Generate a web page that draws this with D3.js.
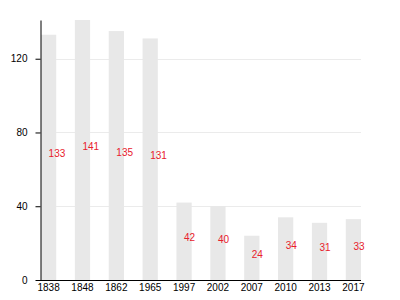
<!DOCTYPE html>
<html>
<head>
<meta charset="utf-8">
<script src="https://cdn.jsdelivr.net/npm/d3@7"></script>
<style>
  body { margin: 0; background: #fff; }
  svg { display: block; font-family: "Liberation Sans", Arial, sans-serif; }
</style>
</head>
<body>
<div id="chart"></div>
<script>
const years = ["1838", "1848", "1862", "1965", "1997", "2002", "2007", "2010", "2013", "2017"];
const values = [133, 141, 135, 131, 42, 40, 24, 34, 31, 33];
const yTicks = [0, 40, 80, 120];

const width = 400, height = 300;
const margin = {top: 20, right: 39, bottom: 20, left: 40};

const svg = d3.select("#chart").append("svg")
    .attr("width", width).attr("height", height);

const x = d3.scaleBand().domain(years)
    .range([margin.left + 1, width - margin.right])
    .paddingInner(0.55).paddingOuter(0);
const y = d3.scaleLinear().domain([0, 141])
    .range([height - margin.bottom, margin.top]);

// grid
svg.append("g").selectAll("line").data(yTicks.slice(1)).join("line")
    .attr("x1", margin.left).attr("x2", width - margin.right)
    .attr("y1", d => Math.round(y(d)) + 0.5).attr("y2", d => Math.round(y(d)) + 0.5)
    .attr("stroke", "#ebebeb");

// bars
svg.append("g").selectAll("rect").data(values).join("rect")
    .attr("x", (d, i) => x(years[i]))
    .attr("width", x.bandwidth())
    .attr("y", d => y(d))
    .attr("height", d => y(0) - y(d))
    .attr("fill", "#e8e8e8");

// labels
svg.append("g").selectAll("text").data(values).join("text")
    .attr("x", (d, i) => x(years[i]) + x.bandwidth() / 2)
    .attr("y", d => (y(d) + y(0)) / 2)
    .attr("fill", "#e8202c")
    .attr("font-size", 10)
    .text(d => d);

// axes
const yAxis = svg.append("g")
    .attr("transform", `translate(${margin.left + 0.5},0)`)
    .call(d3.axisLeft(y).tickValues(yTicks).tickSize(5).tickSizeOuter(0).tickPadding(8));
yAxis.selectAll("text").attr("font-size", 10).attr("fill", "#000");

const xAxis = svg.append("g")
    .attr("transform", `translate(0,${height - margin.bottom + 0.5})`)
    .call(d3.axisBottom(x).tickSize(0).tickSizeOuter(0).tickPadding(3));
xAxis.select(".domain").attr("d", `M${margin.left},0H${width - margin.right}`);
xAxis.selectAll("text").attr("font-size", 10).attr("fill", "#000");
svg.selectAll(".domain").attr("stroke", "#000");
svg.selectAll(".tick line").attr("stroke", "#000");
</script>
</body>
</html>
